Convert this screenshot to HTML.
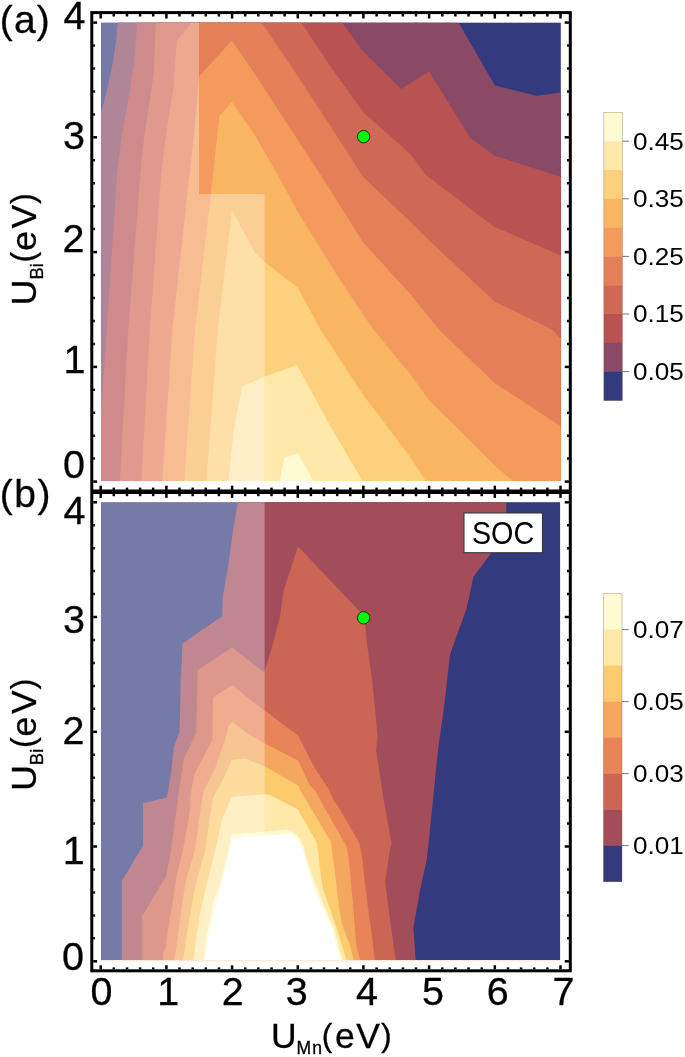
<!DOCTYPE html>
<html><head><meta charset="utf-8"><title>Contour plots</title>
<style>
html,body{margin:0;padding:0;background:#fff;}
body{width:685px;height:1057px;overflow:hidden;}
svg{display:block;font-family:"Liberation Sans",sans-serif;will-change:transform;opacity:0.999;}
</style></head><body>
<svg width="685" height="1057" viewBox="0 0 685 1057">
<rect width="685" height="1057" fill="#fff"/>
<rect x="101.0" y="22.7" width="459.8" height="458.3" fill="#333a7e"/>
<polygon points="101.0,112.2 102.0,109.6 108.1,85.0 112.5,64.0 116.0,41.3 117.7,22.7 458.7,22.7 494.9,85.6 536.7,95.8 560.8,92.4 560.8,481.0 101.0,481.0" fill="#8a4965"/>
<polygon points="101.0,412.0 106.8,330.0 117.0,175.0 121.5,137.7 127.2,106.0 133.9,65.3 137.3,22.7 342.1,22.7 363.6,51.7 401.0,89.0 429.2,71.6 470.0,137.7 494.9,155.8 560.8,176.8 560.8,481.0 101.0,481.0" fill="#b85352"/>
<polygon points="119.9,481.0 128.3,330.0 140.3,175.0 143.0,146.7 147.5,115.0 153.2,76.6 156.1,22.7 301.4,22.7 329.7,65.3 363.6,112.8 410.0,153.5 425.8,175.0 494.4,226.9 560.8,255.4 560.8,481.0" fill="#cf6955"/>
<polygon points="141.4,481.0 149.8,330.0 161.1,175.0 164.5,146.7 169.0,115.0 173.5,87.9 176.9,40.4 191.7,22.7 261.8,22.7 298.0,76.6 330.1,125.7 363.1,177.1 410.0,221.4 429.2,240.6 494.9,301.7 536.7,322.1 552.6,330.0 560.8,339.0 560.8,481.0" fill="#e57f58"/>
<polygon points="162.2,481.0 172.4,330.0 189.4,175.0 192.8,146.7 196.2,110.5 198.9,76.6 231.9,40.4 255.0,74.3 289.0,126.4 320.6,175.0 363.6,242.9 410.0,293.8 439.4,330.0 494.9,383.2 560.8,426.2 560.8,481.0" fill="#f39b5d"/>
<polygon points="184.2,481.0 195.0,330.0 213.1,175.0 219.3,116.2 231.9,101.9 255.0,135.4 277.6,175.0 298.0,212.3 336.5,274.6 363.6,315.3 373.8,330.0 410.0,374.1 429.2,400.2 494.9,465.8 513.0,481.0" fill="#f9b662"/>
<polygon points="206.4,481.0 217.7,330.0 231.9,210.1 255.0,252.5 264.7,262.1 298.0,288.1 320.6,330.0 363.6,395.6 410.0,456.7 425.8,481.0" fill="#fdd07c"/>
<polygon points="228.5,481.0 233.5,431.8 242.1,386.6 255.0,380.9 264.7,376.4 296.9,365.1 329.7,425.0 362.5,481.0" fill="#ffe8aa"/>
<polygon points="279.4,481.0 284.4,457.2 298.0,453.3 313.4,481.0" fill="#fffad2"/>
<polygon points="101.0,22.7 199.0,22.7 199.0,194.0 264.6,194.0 264.6,481.0 101.0,481.0" fill="#fff" fill-opacity="0.33"/>
<rect x="101.0" y="502.2" width="459.1" height="458.0" fill="#333a7e"/>
<polygon points="238.0,502.2 233.5,527.2 227.9,567.9 222.7,597.3 222.2,616.5 201.8,630.0 182.5,643.7 181.7,662.1 180.6,683.0 180.1,710.3 179.6,731.2 176.5,740.0 173.7,748.0 171.2,772.1 167.0,797.5 143.0,803.2 143.0,845.5 121.8,881.3 121.8,960.2 415.7,960.2 413.4,927.7 420.2,889.2 426.7,860.0 428.3,846.4 433.1,798.2 438.0,750.0 444.4,704.2 450.0,654.5 466.6,608.6 473.4,576.9 490.3,554.3 506.2,513.0 506.2,502.2" fill="#a34d5a"/>
<polygon points="232.3,647.3 197.7,670.1 197.3,694.2 196.6,713.5 196.1,732.8 192.9,740.0 184.1,757.7 179.3,788.2 176.1,812.3 171.0,850.0 166.2,875.7 142.1,916.6 142.1,960.2 395.6,960.2 389.9,919.2 385.1,881.5 389.1,855.0 391.4,843.1 383.4,798.2 376.1,750.0 377.7,736.4 376.1,720.3 372.1,680.1 366.5,640.0 365.9,631.3 363.6,615.4 298.0,546.4 283.3,591.7 279.9,617.7 270.0,654.1 264.1,672.6" fill="#cc6654"/>
<polygon points="232.3,685.1 213.0,697.4 212.2,740.0 208.2,748.0 194.5,773.7 190.5,794.6 189.7,812.3 183.0,850.0 176.5,875.7 172.6,903.0 167.8,930.3 166.2,946.4 163.0,952.8 163.0,960.2 374.7,960.2 372.3,938.5 367.4,903.2 361.8,855.0 359.3,843.1 340.0,809.4 333.5,800.0 329.1,790.0 314.2,767.1 298.2,735.8 264.1,710.1 250.0,699.6" fill="#e98358"/>
<polygon points="232.3,722.3 229.1,724.7 225.0,740.0 215.4,767.3 203.4,791.4 200.1,812.3 195.0,850.0 185.5,882.1 180.7,914.2 177.4,939.9 174.2,960.2 360.2,960.2 356.2,944.9 353.0,903.2 348.2,855.0 346.4,846.4 340.0,835.1 314.6,790.0 309.4,784.7 298.2,760.7 264.1,743.0 250.0,735.0" fill="#f4a75f"/>
<polygon points="231.5,760.1 224.2,776.9 213.0,797.8 209.8,817.1 205.2,850.0 195.1,886.9 188.7,922.3 183.1,960.2 353.8,960.2 349.8,944.9 341.8,924.1 338.5,903.2 334.7,870.3 330.7,841.4 300.1,790.0 298.2,785.6 264.1,766.0 250.0,760.5 245.0,758.5" fill="#fccb6e"/>
<polygon points="231.5,797.0 221.8,820.3 219.4,831.5 215.4,850.0 206.4,885.3 199.9,914.2 195.9,939.9 193.5,960.2 346.6,960.2 336.9,928.9 322.5,887.1 320.2,870.3 317.0,843.0 297.7,809.3 269.6,794.8 264.0,794.3" fill="#ffe8a8"/>
<polygon points="231.5,834.5 228.2,850.0 220.0,884.5 212.8,903.0 206.4,936.7 203.1,960.2 342.5,960.2 334.3,928.9 321.5,900.0 306.0,857.0 304.0,847.0 300.1,838.5 293.0,831.0 287.3,829.5 260.0,832.2" fill="#fffad2"/>
<polygon points="232.0,838.0 229.9,850.0 221.7,884.5 214.4,911.0 208.0,939.9 204.7,960.2 340.1,960.2 332.1,928.9 318.5,900.0 304.2,857.4 302.6,847.8 298.5,839.8 292.1,834.2 290.0,833.5 260.0,836.0" fill="#ffffff"/>
<rect x="101.0" y="502.2" width="163.6" height="458.0" fill="#fff" fill-opacity="0.33"/>
<rect x="101.0" y="960.1" width="459.1" height="1.3" fill="#fdeee2"/>
<circle cx="363.6" cy="136.6" r="6.2" fill="#04f804" stroke="#062a06" stroke-width="0.9"/>
<circle cx="363.6" cy="617.8" r="6.2" fill="#04f804" stroke="#062a06" stroke-width="0.9"/>
<g stroke="#000" fill="none">
<rect x="91.8" y="12.6" width="478.5" height="958.2" stroke-width="3"/>
<line x1="91.8" y1="491.8" x2="570.3" y2="491.8" stroke-width="4.6"/>
</g>
<g stroke="#000"><line x1="100.7" y1="14.0" x2="100.7" y2="18.5" stroke-width="2.5"/><line x1="100.7" y1="485.7" x2="100.7" y2="497.9" stroke-width="2.5"/><line x1="100.7" y1="969.4" x2="100.7" y2="965.3" stroke-width="2.5"/><line x1="113.8" y1="14.0" x2="113.8" y2="16.5" stroke-width="2.5"/><line x1="113.8" y1="487.6" x2="113.8" y2="496.2" stroke-width="2.5"/><line x1="113.8" y1="969.4" x2="113.8" y2="967.4" stroke-width="2.5"/><line x1="127.0" y1="14.0" x2="127.0" y2="16.5" stroke-width="2.5"/><line x1="127.0" y1="487.6" x2="127.0" y2="496.2" stroke-width="2.5"/><line x1="127.0" y1="969.4" x2="127.0" y2="967.4" stroke-width="2.5"/><line x1="140.1" y1="14.0" x2="140.1" y2="16.5" stroke-width="2.5"/><line x1="140.1" y1="487.6" x2="140.1" y2="496.2" stroke-width="2.5"/><line x1="140.1" y1="969.4" x2="140.1" y2="967.4" stroke-width="2.5"/><line x1="153.2" y1="14.0" x2="153.2" y2="16.5" stroke-width="2.5"/><line x1="153.2" y1="487.6" x2="153.2" y2="496.2" stroke-width="2.5"/><line x1="153.2" y1="969.4" x2="153.2" y2="967.4" stroke-width="2.5"/><line x1="166.4" y1="14.0" x2="166.4" y2="18.5" stroke-width="2.5"/><line x1="166.4" y1="485.7" x2="166.4" y2="497.9" stroke-width="2.5"/><line x1="166.4" y1="969.4" x2="166.4" y2="965.3" stroke-width="2.5"/><line x1="179.5" y1="14.0" x2="179.5" y2="16.5" stroke-width="2.5"/><line x1="179.5" y1="487.6" x2="179.5" y2="496.2" stroke-width="2.5"/><line x1="179.5" y1="969.4" x2="179.5" y2="967.4" stroke-width="2.5"/><line x1="192.7" y1="14.0" x2="192.7" y2="16.5" stroke-width="2.5"/><line x1="192.7" y1="487.6" x2="192.7" y2="496.2" stroke-width="2.5"/><line x1="192.7" y1="969.4" x2="192.7" y2="967.4" stroke-width="2.5"/><line x1="205.8" y1="14.0" x2="205.8" y2="16.5" stroke-width="2.5"/><line x1="205.8" y1="487.6" x2="205.8" y2="496.2" stroke-width="2.5"/><line x1="205.8" y1="969.4" x2="205.8" y2="967.4" stroke-width="2.5"/><line x1="218.9" y1="14.0" x2="218.9" y2="16.5" stroke-width="2.5"/><line x1="218.9" y1="487.6" x2="218.9" y2="496.2" stroke-width="2.5"/><line x1="218.9" y1="969.4" x2="218.9" y2="967.4" stroke-width="2.5"/><line x1="232.1" y1="14.0" x2="232.1" y2="18.5" stroke-width="2.5"/><line x1="232.1" y1="485.7" x2="232.1" y2="497.9" stroke-width="2.5"/><line x1="232.1" y1="969.4" x2="232.1" y2="965.3" stroke-width="2.5"/><line x1="245.2" y1="14.0" x2="245.2" y2="16.5" stroke-width="2.5"/><line x1="245.2" y1="487.6" x2="245.2" y2="496.2" stroke-width="2.5"/><line x1="245.2" y1="969.4" x2="245.2" y2="967.4" stroke-width="2.5"/><line x1="258.3" y1="14.0" x2="258.3" y2="16.5" stroke-width="2.5"/><line x1="258.3" y1="487.6" x2="258.3" y2="496.2" stroke-width="2.5"/><line x1="258.3" y1="969.4" x2="258.3" y2="967.4" stroke-width="2.5"/><line x1="271.5" y1="14.0" x2="271.5" y2="16.5" stroke-width="2.5"/><line x1="271.5" y1="487.6" x2="271.5" y2="496.2" stroke-width="2.5"/><line x1="271.5" y1="969.4" x2="271.5" y2="967.4" stroke-width="2.5"/><line x1="284.6" y1="14.0" x2="284.6" y2="16.5" stroke-width="2.5"/><line x1="284.6" y1="487.6" x2="284.6" y2="496.2" stroke-width="2.5"/><line x1="284.6" y1="969.4" x2="284.6" y2="967.4" stroke-width="2.5"/><line x1="297.8" y1="14.0" x2="297.8" y2="18.5" stroke-width="2.5"/><line x1="297.8" y1="485.7" x2="297.8" y2="497.9" stroke-width="2.5"/><line x1="297.8" y1="969.4" x2="297.8" y2="965.3" stroke-width="2.5"/><line x1="310.9" y1="14.0" x2="310.9" y2="16.5" stroke-width="2.5"/><line x1="310.9" y1="487.6" x2="310.9" y2="496.2" stroke-width="2.5"/><line x1="310.9" y1="969.4" x2="310.9" y2="967.4" stroke-width="2.5"/><line x1="324.0" y1="14.0" x2="324.0" y2="16.5" stroke-width="2.5"/><line x1="324.0" y1="487.6" x2="324.0" y2="496.2" stroke-width="2.5"/><line x1="324.0" y1="969.4" x2="324.0" y2="967.4" stroke-width="2.5"/><line x1="337.2" y1="14.0" x2="337.2" y2="16.5" stroke-width="2.5"/><line x1="337.2" y1="487.6" x2="337.2" y2="496.2" stroke-width="2.5"/><line x1="337.2" y1="969.4" x2="337.2" y2="967.4" stroke-width="2.5"/><line x1="350.3" y1="14.0" x2="350.3" y2="16.5" stroke-width="2.5"/><line x1="350.3" y1="487.6" x2="350.3" y2="496.2" stroke-width="2.5"/><line x1="350.3" y1="969.4" x2="350.3" y2="967.4" stroke-width="2.5"/><line x1="363.4" y1="14.0" x2="363.4" y2="18.5" stroke-width="2.5"/><line x1="363.4" y1="485.7" x2="363.4" y2="497.9" stroke-width="2.5"/><line x1="363.4" y1="969.4" x2="363.4" y2="965.3" stroke-width="2.5"/><line x1="376.6" y1="14.0" x2="376.6" y2="16.5" stroke-width="2.5"/><line x1="376.6" y1="487.6" x2="376.6" y2="496.2" stroke-width="2.5"/><line x1="376.6" y1="969.4" x2="376.6" y2="967.4" stroke-width="2.5"/><line x1="389.7" y1="14.0" x2="389.7" y2="16.5" stroke-width="2.5"/><line x1="389.7" y1="487.6" x2="389.7" y2="496.2" stroke-width="2.5"/><line x1="389.7" y1="969.4" x2="389.7" y2="967.4" stroke-width="2.5"/><line x1="402.9" y1="14.0" x2="402.9" y2="16.5" stroke-width="2.5"/><line x1="402.9" y1="487.6" x2="402.9" y2="496.2" stroke-width="2.5"/><line x1="402.9" y1="969.4" x2="402.9" y2="967.4" stroke-width="2.5"/><line x1="416.0" y1="14.0" x2="416.0" y2="16.5" stroke-width="2.5"/><line x1="416.0" y1="487.6" x2="416.0" y2="496.2" stroke-width="2.5"/><line x1="416.0" y1="969.4" x2="416.0" y2="967.4" stroke-width="2.5"/><line x1="429.1" y1="14.0" x2="429.1" y2="18.5" stroke-width="2.5"/><line x1="429.1" y1="485.7" x2="429.1" y2="497.9" stroke-width="2.5"/><line x1="429.1" y1="969.4" x2="429.1" y2="965.3" stroke-width="2.5"/><line x1="442.3" y1="14.0" x2="442.3" y2="16.5" stroke-width="2.5"/><line x1="442.3" y1="487.6" x2="442.3" y2="496.2" stroke-width="2.5"/><line x1="442.3" y1="969.4" x2="442.3" y2="967.4" stroke-width="2.5"/><line x1="455.4" y1="14.0" x2="455.4" y2="16.5" stroke-width="2.5"/><line x1="455.4" y1="487.6" x2="455.4" y2="496.2" stroke-width="2.5"/><line x1="455.4" y1="969.4" x2="455.4" y2="967.4" stroke-width="2.5"/><line x1="468.5" y1="14.0" x2="468.5" y2="16.5" stroke-width="2.5"/><line x1="468.5" y1="487.6" x2="468.5" y2="496.2" stroke-width="2.5"/><line x1="468.5" y1="969.4" x2="468.5" y2="967.4" stroke-width="2.5"/><line x1="481.7" y1="14.0" x2="481.7" y2="16.5" stroke-width="2.5"/><line x1="481.7" y1="487.6" x2="481.7" y2="496.2" stroke-width="2.5"/><line x1="481.7" y1="969.4" x2="481.7" y2="967.4" stroke-width="2.5"/><line x1="494.8" y1="14.0" x2="494.8" y2="18.5" stroke-width="2.5"/><line x1="494.8" y1="485.7" x2="494.8" y2="497.9" stroke-width="2.5"/><line x1="494.8" y1="969.4" x2="494.8" y2="965.3" stroke-width="2.5"/><line x1="508.0" y1="14.0" x2="508.0" y2="16.5" stroke-width="2.5"/><line x1="508.0" y1="487.6" x2="508.0" y2="496.2" stroke-width="2.5"/><line x1="508.0" y1="969.4" x2="508.0" y2="967.4" stroke-width="2.5"/><line x1="521.1" y1="14.0" x2="521.1" y2="16.5" stroke-width="2.5"/><line x1="521.1" y1="487.6" x2="521.1" y2="496.2" stroke-width="2.5"/><line x1="521.1" y1="969.4" x2="521.1" y2="967.4" stroke-width="2.5"/><line x1="534.2" y1="14.0" x2="534.2" y2="16.5" stroke-width="2.5"/><line x1="534.2" y1="487.6" x2="534.2" y2="496.2" stroke-width="2.5"/><line x1="534.2" y1="969.4" x2="534.2" y2="967.4" stroke-width="2.5"/><line x1="547.4" y1="14.0" x2="547.4" y2="16.5" stroke-width="2.5"/><line x1="547.4" y1="487.6" x2="547.4" y2="496.2" stroke-width="2.5"/><line x1="547.4" y1="969.4" x2="547.4" y2="967.4" stroke-width="2.5"/><line x1="560.5" y1="14.0" x2="560.5" y2="18.5" stroke-width="2.5"/><line x1="560.5" y1="485.7" x2="560.5" y2="497.9" stroke-width="2.5"/><line x1="560.5" y1="969.4" x2="560.5" y2="965.3" stroke-width="2.5"/><line x1="93.2" y1="481.6" x2="97.1" y2="481.6" stroke-width="2.5"/><line x1="568.9" y1="481.6" x2="564.7" y2="481.6" stroke-width="2.5"/><line x1="93.2" y1="961.3" x2="97.1" y2="961.3" stroke-width="2.5"/><line x1="568.9" y1="961.3" x2="564.7" y2="961.3" stroke-width="2.5"/><line x1="93.2" y1="458.6" x2="94.9" y2="458.6" stroke-width="2.5"/><line x1="568.9" y1="458.6" x2="567.0" y2="458.6" stroke-width="2.5"/><line x1="93.2" y1="938.3" x2="94.9" y2="938.3" stroke-width="2.5"/><line x1="568.9" y1="938.3" x2="567.0" y2="938.3" stroke-width="2.5"/><line x1="93.2" y1="435.7" x2="94.9" y2="435.7" stroke-width="2.5"/><line x1="568.9" y1="435.7" x2="567.0" y2="435.7" stroke-width="2.5"/><line x1="93.2" y1="915.4" x2="94.9" y2="915.4" stroke-width="2.5"/><line x1="568.9" y1="915.4" x2="567.0" y2="915.4" stroke-width="2.5"/><line x1="93.2" y1="412.8" x2="94.9" y2="412.8" stroke-width="2.5"/><line x1="568.9" y1="412.8" x2="567.0" y2="412.8" stroke-width="2.5"/><line x1="93.2" y1="892.4" x2="94.9" y2="892.4" stroke-width="2.5"/><line x1="568.9" y1="892.4" x2="567.0" y2="892.4" stroke-width="2.5"/><line x1="93.2" y1="389.8" x2="94.9" y2="389.8" stroke-width="2.5"/><line x1="568.9" y1="389.8" x2="567.0" y2="389.8" stroke-width="2.5"/><line x1="93.2" y1="869.5" x2="94.9" y2="869.5" stroke-width="2.5"/><line x1="568.9" y1="869.5" x2="567.0" y2="869.5" stroke-width="2.5"/><line x1="93.2" y1="366.9" x2="97.1" y2="366.9" stroke-width="2.5"/><line x1="568.9" y1="366.9" x2="564.7" y2="366.9" stroke-width="2.5"/><line x1="93.2" y1="846.5" x2="97.1" y2="846.5" stroke-width="2.5"/><line x1="568.9" y1="846.5" x2="564.7" y2="846.5" stroke-width="2.5"/><line x1="93.2" y1="343.9" x2="94.9" y2="343.9" stroke-width="2.5"/><line x1="568.9" y1="343.9" x2="567.0" y2="343.9" stroke-width="2.5"/><line x1="93.2" y1="823.6" x2="94.9" y2="823.6" stroke-width="2.5"/><line x1="568.9" y1="823.6" x2="567.0" y2="823.6" stroke-width="2.5"/><line x1="93.2" y1="320.9" x2="94.9" y2="320.9" stroke-width="2.5"/><line x1="568.9" y1="320.9" x2="567.0" y2="320.9" stroke-width="2.5"/><line x1="93.2" y1="800.6" x2="94.9" y2="800.6" stroke-width="2.5"/><line x1="568.9" y1="800.6" x2="567.0" y2="800.6" stroke-width="2.5"/><line x1="93.2" y1="298.0" x2="94.9" y2="298.0" stroke-width="2.5"/><line x1="568.9" y1="298.0" x2="567.0" y2="298.0" stroke-width="2.5"/><line x1="93.2" y1="777.7" x2="94.9" y2="777.7" stroke-width="2.5"/><line x1="568.9" y1="777.7" x2="567.0" y2="777.7" stroke-width="2.5"/><line x1="93.2" y1="275.1" x2="94.9" y2="275.1" stroke-width="2.5"/><line x1="568.9" y1="275.1" x2="567.0" y2="275.1" stroke-width="2.5"/><line x1="93.2" y1="754.8" x2="94.9" y2="754.8" stroke-width="2.5"/><line x1="568.9" y1="754.8" x2="567.0" y2="754.8" stroke-width="2.5"/><line x1="93.2" y1="252.1" x2="97.1" y2="252.1" stroke-width="2.5"/><line x1="568.9" y1="252.1" x2="564.7" y2="252.1" stroke-width="2.5"/><line x1="93.2" y1="731.8" x2="97.1" y2="731.8" stroke-width="2.5"/><line x1="568.9" y1="731.8" x2="564.7" y2="731.8" stroke-width="2.5"/><line x1="93.2" y1="229.1" x2="94.9" y2="229.1" stroke-width="2.5"/><line x1="568.9" y1="229.1" x2="567.0" y2="229.1" stroke-width="2.5"/><line x1="93.2" y1="708.8" x2="94.9" y2="708.8" stroke-width="2.5"/><line x1="568.9" y1="708.8" x2="567.0" y2="708.8" stroke-width="2.5"/><line x1="93.2" y1="206.2" x2="94.9" y2="206.2" stroke-width="2.5"/><line x1="568.9" y1="206.2" x2="567.0" y2="206.2" stroke-width="2.5"/><line x1="93.2" y1="685.9" x2="94.9" y2="685.9" stroke-width="2.5"/><line x1="568.9" y1="685.9" x2="567.0" y2="685.9" stroke-width="2.5"/><line x1="93.2" y1="183.2" x2="94.9" y2="183.2" stroke-width="2.5"/><line x1="568.9" y1="183.2" x2="567.0" y2="183.2" stroke-width="2.5"/><line x1="93.2" y1="663.0" x2="94.9" y2="663.0" stroke-width="2.5"/><line x1="568.9" y1="663.0" x2="567.0" y2="663.0" stroke-width="2.5"/><line x1="93.2" y1="160.3" x2="94.9" y2="160.3" stroke-width="2.5"/><line x1="568.9" y1="160.3" x2="567.0" y2="160.3" stroke-width="2.5"/><line x1="93.2" y1="640.0" x2="94.9" y2="640.0" stroke-width="2.5"/><line x1="568.9" y1="640.0" x2="567.0" y2="640.0" stroke-width="2.5"/><line x1="93.2" y1="137.3" x2="97.1" y2="137.3" stroke-width="2.5"/><line x1="568.9" y1="137.3" x2="564.7" y2="137.3" stroke-width="2.5"/><line x1="93.2" y1="617.0" x2="97.1" y2="617.0" stroke-width="2.5"/><line x1="568.9" y1="617.0" x2="564.7" y2="617.0" stroke-width="2.5"/><line x1="93.2" y1="114.4" x2="94.9" y2="114.4" stroke-width="2.5"/><line x1="568.9" y1="114.4" x2="567.0" y2="114.4" stroke-width="2.5"/><line x1="93.2" y1="594.1" x2="94.9" y2="594.1" stroke-width="2.5"/><line x1="568.9" y1="594.1" x2="567.0" y2="594.1" stroke-width="2.5"/><line x1="93.2" y1="91.4" x2="94.9" y2="91.4" stroke-width="2.5"/><line x1="568.9" y1="91.4" x2="567.0" y2="91.4" stroke-width="2.5"/><line x1="93.2" y1="571.1" x2="94.9" y2="571.1" stroke-width="2.5"/><line x1="568.9" y1="571.1" x2="567.0" y2="571.1" stroke-width="2.5"/><line x1="93.2" y1="68.5" x2="94.9" y2="68.5" stroke-width="2.5"/><line x1="568.9" y1="68.5" x2="567.0" y2="68.5" stroke-width="2.5"/><line x1="93.2" y1="548.2" x2="94.9" y2="548.2" stroke-width="2.5"/><line x1="568.9" y1="548.2" x2="567.0" y2="548.2" stroke-width="2.5"/><line x1="93.2" y1="45.5" x2="94.9" y2="45.5" stroke-width="2.5"/><line x1="568.9" y1="45.5" x2="567.0" y2="45.5" stroke-width="2.5"/><line x1="93.2" y1="525.2" x2="94.9" y2="525.2" stroke-width="2.5"/><line x1="568.9" y1="525.2" x2="567.0" y2="525.2" stroke-width="2.5"/><line x1="93.2" y1="22.6" x2="97.1" y2="22.6" stroke-width="2.5"/><line x1="568.9" y1="22.6" x2="564.7" y2="22.6" stroke-width="2.5"/><line x1="93.2" y1="502.3" x2="97.1" y2="502.3" stroke-width="2.5"/><line x1="568.9" y1="502.3" x2="564.7" y2="502.3" stroke-width="2.5"/></g>
<rect x="603.8" y="112.40" width="18.6" height="29.10" fill="#fffad2"/><rect x="603.8" y="141.20" width="18.6" height="29.10" fill="#ffe8aa"/><rect x="603.8" y="170.00" width="18.6" height="29.10" fill="#fdd07c"/><rect x="603.8" y="198.80" width="18.6" height="29.10" fill="#f9b662"/><rect x="603.8" y="227.60" width="18.6" height="29.10" fill="#f39b5d"/><rect x="603.8" y="256.40" width="18.6" height="29.10" fill="#e57f58"/><rect x="603.8" y="285.20" width="18.6" height="29.10" fill="#cf6955"/><rect x="603.8" y="314.00" width="18.6" height="29.10" fill="#b85352"/><rect x="603.8" y="342.80" width="18.6" height="29.10" fill="#8a4965"/><rect x="603.8" y="371.60" width="18.6" height="29.10" fill="#333a7e"/><rect x="603.8" y="112.4" width="18.6" height="288.0" fill="none" stroke="#7a6a50" stroke-opacity="0.45" stroke-width="0.8"/>
<rect x="603.4" y="593.60" width="18.6" height="36.30" fill="#fffad2"/><rect x="603.4" y="629.60" width="18.6" height="36.30" fill="#ffe8a8"/><rect x="603.4" y="665.60" width="18.6" height="36.30" fill="#fccb6e"/><rect x="603.4" y="701.60" width="18.6" height="36.30" fill="#f4a75f"/><rect x="603.4" y="737.60" width="18.6" height="36.30" fill="#e98358"/><rect x="603.4" y="773.60" width="18.6" height="36.30" fill="#cc6654"/><rect x="603.4" y="809.60" width="18.6" height="36.30" fill="#a34d5a"/><rect x="603.4" y="845.60" width="18.6" height="36.30" fill="#333a7e"/><rect x="603.4" y="593.6" width="18.6" height="288.0" fill="none" stroke="#7a6a50" stroke-opacity="0.45" stroke-width="0.8"/>
<g fill="#000"><line x1="622.4" y1="141.2" x2="629" y2="141.2" stroke="#777" stroke-width="1"/><text x="632.9" y="149.6" font-size="23" textLength="50.8" lengthAdjust="spacingAndGlyphs">0.45</text><line x1="622.4" y1="198.8" x2="629" y2="198.8" stroke="#777" stroke-width="1"/><text x="632.9" y="207.2" font-size="23" textLength="50.8" lengthAdjust="spacingAndGlyphs">0.35</text><line x1="622.4" y1="256.4" x2="629" y2="256.4" stroke="#777" stroke-width="1"/><text x="632.9" y="264.8" font-size="23" textLength="50.8" lengthAdjust="spacingAndGlyphs">0.25</text><line x1="622.4" y1="314.0" x2="629" y2="314.0" stroke="#777" stroke-width="1"/><text x="632.9" y="322.4" font-size="23" textLength="50.8" lengthAdjust="spacingAndGlyphs">0.15</text><line x1="622.4" y1="371.6" x2="629" y2="371.6" stroke="#777" stroke-width="1"/><text x="632.9" y="380.0" font-size="23" textLength="50.8" lengthAdjust="spacingAndGlyphs">0.05</text><line x1="622" y1="629.6" x2="628.6" y2="629.6" stroke="#777" stroke-width="1"/><text x="632.9" y="638.0" font-size="23" textLength="50.8" lengthAdjust="spacingAndGlyphs">0.07</text><line x1="622" y1="701.6" x2="628.6" y2="701.6" stroke="#777" stroke-width="1"/><text x="632.9" y="710.0" font-size="23" textLength="50.8" lengthAdjust="spacingAndGlyphs">0.05</text><line x1="622" y1="773.6" x2="628.6" y2="773.6" stroke="#777" stroke-width="1"/><text x="632.9" y="782.0" font-size="23" textLength="50.8" lengthAdjust="spacingAndGlyphs">0.03</text><line x1="622" y1="845.6" x2="628.6" y2="845.6" stroke="#777" stroke-width="1"/><text x="632.9" y="854.0" font-size="23" textLength="50.8" lengthAdjust="spacingAndGlyphs">0.01</text></g>
<rect x="464" y="513" width="78.4" height="39.7" fill="#fff" stroke="#333" stroke-width="1"/>
<text x="471.9" y="544.2" font-size="30.5" textLength="62.3" lengthAdjust="spacingAndGlyphs">SOC</text>
<g fill="#000" stroke="#000" stroke-width="0.3"><text x="-0.3" y="33.4" font-size="39" letter-spacing="1.2">(a)</text><text x="-0.3" y="507.0" font-size="39" letter-spacing="1.6">(b)</text><text x="74.4" y="29.3" font-size="39.5" text-anchor="middle">4</text><text x="74.1" y="148.8" font-size="39.5" text-anchor="middle">3</text><text x="73.6" y="252.0" font-size="39.5" text-anchor="middle">2</text><text x="74.6" y="372.7" font-size="39.5" text-anchor="middle">1</text><text x="74.1" y="477.9" font-size="39.5" text-anchor="middle">0</text><text x="74.4" y="524.4" font-size="39.5" text-anchor="middle">4</text><text x="74.1" y="632.9" font-size="39.5" text-anchor="middle">3</text><text x="73.6" y="743.8" font-size="39.5" text-anchor="middle">2</text><text x="73.8" y="864.4" font-size="39.5" text-anchor="middle">1</text><text x="73.0" y="969.6" font-size="39.5" text-anchor="middle">0</text><text x="101.5" y="1004.6" font-size="39.5" text-anchor="middle">0</text><text x="168.2" y="1004.6" font-size="39.5" text-anchor="middle">1</text><text x="232.7" y="1004.6" font-size="39.5" text-anchor="middle">2</text><text x="296.7" y="1004.6" font-size="39.5" text-anchor="middle">3</text><text x="367.0" y="1004.6" font-size="39.5" text-anchor="middle">4</text><text x="433.0" y="1004.6" font-size="39.5" text-anchor="middle">5</text><text x="497.8" y="1004.6" font-size="39.5" text-anchor="middle">6</text><text x="563.5" y="1004.6" font-size="39.5" text-anchor="middle">7</text><text transform="translate(36.4,302) rotate(-90)"><tspan x="-3.17" y="0.00" font-size="35.5">U</tspan><tspan x="22.40" y="6.80" font-size="18.5">Bi</tspan><tspan x="39.50" y="-2.00" font-size="32.5">(</tspan><tspan x="51.20" y="0.00" font-size="35.5">e</tspan><tspan x="73.50" y="0.00" font-size="35.5">V</tspan><tspan x="98.00" y="-2.00" font-size="32.5">)</tspan></text><text transform="translate(36.4,787.6) rotate(-90)"><tspan x="-3.17" y="0.00" font-size="35.5">U</tspan><tspan x="22.40" y="6.80" font-size="18.5">Bi</tspan><tspan x="39.50" y="-2.00" font-size="32.5">(</tspan><tspan x="51.20" y="0.00" font-size="35.5">e</tspan><tspan x="73.50" y="0.00" font-size="35.5">V</tspan><tspan x="98.00" y="-2.00" font-size="32.5">)</tspan></text><text><tspan x="271.10" y="1048.10" font-size="35.5">U</tspan><tspan x="296.60" y="1054.00" font-size="17.5" letter-spacing="1.0">Mn</tspan><tspan x="321.70" y="1045.90" font-size="32.0">(</tspan><tspan x="335.00" y="1048.10" font-size="35.5">e</tspan><tspan x="356.30" y="1048.10" font-size="35.5">V</tspan><tspan x="380.90" y="1045.90" font-size="32.0">)</tspan></text></g>
</svg>
</body></html>
